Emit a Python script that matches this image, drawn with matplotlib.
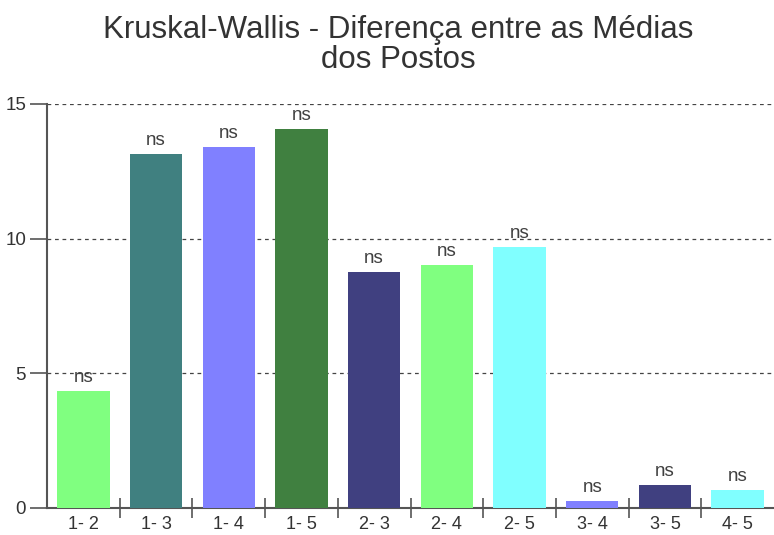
import matplotlib
matplotlib.use("Agg")
import matplotlib.pyplot as plt
import numpy as np

categories = ["1- 2", "1- 3", "1- 4", "1- 5", "2- 3", "2- 4", "2- 5", "3- 4", "3- 5", "4- 5"]
values = [4.34, 13.14, 13.4, 14.07, 8.76, 9.02, 9.69, 0.26, 0.85, 0.67]
labels = ["ns"] * 10
colors = ["#80FF80", "#408080", "#8080FF", "#408040", "#404080",
          "#80FF80", "#80FFFF", "#8080FF", "#404080", "#80FFFF"]
yticks = [0, 5, 10, 15]

plt.rcParams['font.family'] = ['Liberation Sans', 'DejaVu Sans']
fig = plt.figure(figsize=(7.74, 5.35), dpi=100)
ax = fig.add_axes([47/774, 27/535, (774-47)/774, (508-104)/535])

x = np.arange(len(categories))
ax.bar(x, values, width=0.72, color=colors, zorder=3)
for xi, v, lab in zip(x, values, labels):
    ax.annotate(lab, (xi, v), xytext=(0, 6.5), textcoords="offset points",
                ha="center", va="baseline", fontsize=13.5, color="#404040",
                annotation_clip=False, zorder=4)

ax.set_xlim(-0.5, len(categories) - 0.5)
ax.set_ylim(0, 15)
ax.set_yticks(yticks)
ax.set_yticklabels([str(t) for t in yticks])
ax.set_xticks(x)
ax.set_xticklabels(categories)
ax.set_xticks(np.arange(0.5, len(categories) - 0.5, 1), minor=True)
ax.tick_params(axis='x', which='major', length=0, pad=6, labelsize=13, labelcolor="#333333")
ax.tick_params(axis='x', which='minor', length=14, direction='inout', width=1.2, color="#555555")
ax.tick_params(axis='y', length=12, width=1.2, color="#555555", pad=3, labelsize=13.5, labelcolor="#333333")

for yt in yticks[1:]:
    ax.axhline(yt, color="#444444", linestyle=(0, (3, 3)), linewidth=0.9, zorder=1)

for s in ["top", "right"]:
    ax.spines[s].set_visible(False)
for s in ["left", "bottom"]:
    ax.spines[s].set_color("#555555")
    ax.spines[s].set_linewidth(1.5)

fig.text(0.515, 1 - 38/535, "Kruskal-Wallis - Diferença entre as Médias",
         ha="center", va="baseline", fontsize=22.5, color="#333333")
fig.text(0.515, 1 - 68/535, "dos Postos",
         ha="center", va="baseline", fontsize=22.5, color="#333333")

fig.savefig("out.png", dpi=100)
